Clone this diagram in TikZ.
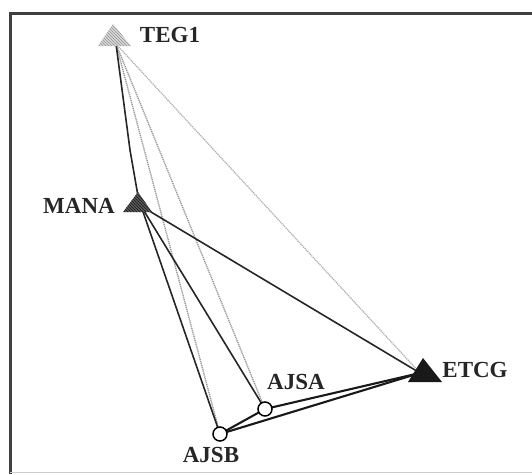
\documentclass[tikz,border=0pt]{standalone}
\usepackage{fontspec}
\setmainfont{Liberation Serif}
\usetikzlibrary{patterns}
\begin{document}
\begin{tikzpicture}[x=1pt,y=-1pt,
  lbl/.style={font=\fontsize{23}{23}\selectfont\bfseries, text=black!85, inner sep=0pt},
  darkedge/.style={draw=black!85, line width=1.6pt},
  thickedge/.style={draw=black!90, line width=2.1pt},
  grayedge/.style={draw=gray!80, line width=1.4pt, dash pattern=on 1.2pt off 0.8pt},
  lightedge/.style={draw=gray!65, line width=1.2pt, dash pattern=on 1.2pt off 0.8pt},
  site/.style={circle, draw=black, line width=1.5pt, fill=white, minimum size=14pt, inner sep=0pt}]
\useasboundingbox (0,0) rectangle (532,474);
% frame
\draw[line width=3pt, black!75] (10,474) -- (10,13) -- (532,13);
\draw[line width=1pt, gray!40] (10,472) -- (532,472);
% hubs
\coordinate (teg1) at (116,44);
\coordinate (mana) at (141,206);
\coordinate (etcg) at (420,373);
% edges
\path[lightedge] (teg1) -- (etcg);
\path[grayedge] (teg1) -- (265,409) coordinate (ajsaC);
\path[grayedge] (teg1) -- (220,434) coordinate (ajsbC);
\path[darkedge] (teg1) -- (130,150) -- (138,196);
\path[darkedge] (mana) -- (ajsbC);
\path[darkedge] (mana) -- (ajsaC);
\path[darkedge] (mana) -- (etcg);
\path[thickedge] (ajsbC) -- (ajsaC);
\path[thickedge] (ajsaC) -- (etcg);
\path[thickedge] (ajsbC) -- (etcg);
% triangles
\fill[gray!30] (98,46) -- (131,46) -- (113,24) -- cycle;
\fill[pattern=north west lines, pattern color=gray!85] (98,46) -- (131,46) -- (113,24) -- cycle;
\fill[black!65] (123,212) -- (152,212) -- (138,192) -- cycle;
\fill[pattern=north west lines, pattern color=black!90] (123,212) -- (152,212) -- (138,192) -- cycle;
\fill[black!90] (408,382) -- (442,382) -- (423,358) -- cycle;
% sites
\node[site] (ajsa) at (ajsaC) {};
\node[site] (ajsb) at (ajsbC) {};
% labels
\node[lbl] (tegl) at (170,35) {TEG1};
\node[lbl] (manal) at (79,206) {MANA};
\node[lbl] (etcgl) at (475,370) {ETCG};
\node[lbl] (ajsal) at (296,382) {AJSA};
\node[lbl] (ajsbl) at (211,455) {AJSB};
\end{tikzpicture}
\end{document}
